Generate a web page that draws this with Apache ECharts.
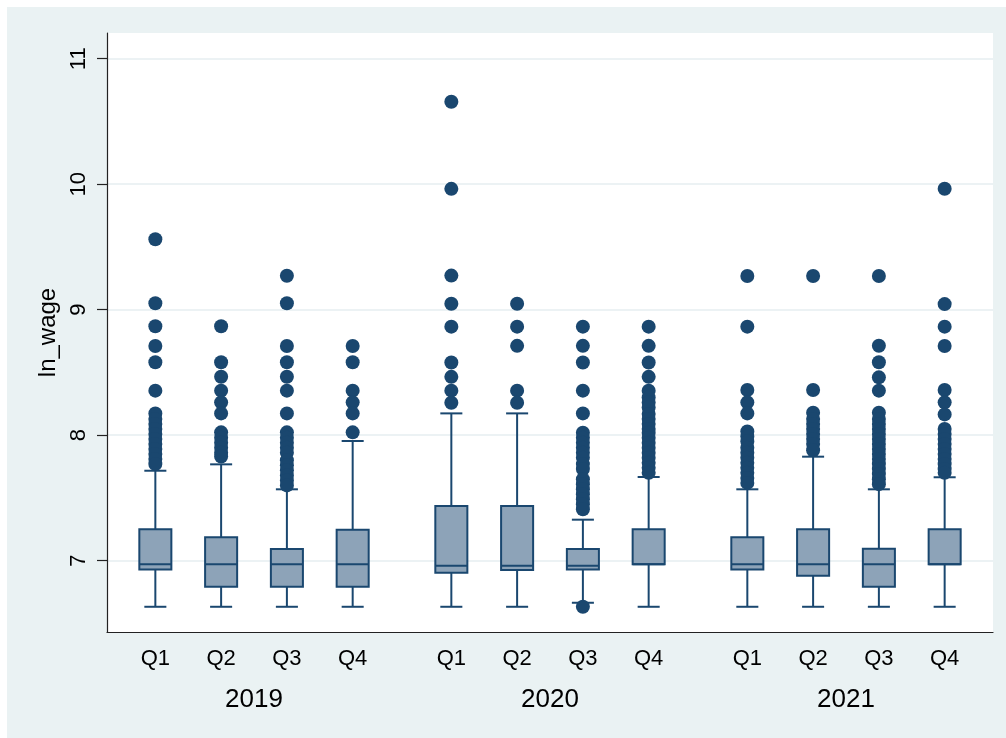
<!DOCTYPE html>
<html>
<head>
<meta charset="utf-8">
<script src="https://cdn.jsdelivr.net/npm/echarts@6/dist/echarts.min.js"></script>
<style>
  html, body { margin: 0; padding: 0; background: #fff; }
  #chart {
    width: 1006px; height: 738px;
    background: linear-gradient(#EAF2F3, #EAF2F3) no-repeat 7px 7px / 999px 731px, #fff;
  }
</style>
</head>
<body>
<div id="chart"></div>
<script>
// Quarterly ln_wage distribution, grouped by year
const years = ['2019', '2020', '2021'];
const quarters = ['Q1', 'Q2', 'Q3', 'Q4'];

// Box statistics, one entry per year-quarter (2019Q1 ... 2021Q4)
const lowerWhisker = [6.633, 6.633, 6.633, 6.633, 6.633, 6.633, 6.665, 6.633, 6.633, 6.633, 6.633, 6.633];
const lowerQuartile = [6.931, 6.793, 6.793, 6.793, 6.904, 6.926, 6.931, 6.971, 6.931, 6.880, 6.793, 6.971];
const medians = [6.971, 6.971, 6.971, 6.971, 6.960, 6.960, 6.960, 6.971, 6.971, 6.971, 6.971, 6.971];
const upperQuartile = [7.250, 7.186, 7.093, 7.247, 7.436, 7.436, 7.093, 7.250, 7.186, 7.250, 7.096, 7.250];
const upperWhisker = [7.717, 7.768, 7.569, 7.954, 8.174, 8.174, 7.327, 7.667, 7.569, 7.829, 7.569, 7.665];

// Outside values for each year-quarter
const outliers = [
  [9.561, 9.051, 8.868, 8.711, 8.581, 8.355, 8.174, 8.13, 8.09, 8.05, 8.01, 7.97, 7.93, 7.89, 7.85, 7.81, 7.77],
  [8.868, 8.581, 8.466, 8.355, 8.262, 8.174, 8.023, 7.98, 7.94, 7.90, 7.86, 7.83],
  [9.271, 9.051, 8.711, 8.581, 8.466, 8.355, 8.174, 8.023, 7.98, 7.94, 7.90, 7.86, 7.80, 7.76, 7.72, 7.68, 7.64, 7.60],
  [8.711, 8.581, 8.355, 8.262, 8.174, 8.023],
  [10.657, 9.963, 9.272, 9.047, 8.865, 8.580, 8.465, 8.355, 8.259],
  [9.047, 8.865, 8.712, 8.355, 8.259],
  [8.865, 8.712, 8.580, 8.355, 8.174, 8.02, 7.98, 7.94, 7.90, 7.86, 7.82, 7.77, 7.73, 7.65, 7.61, 7.57, 7.53, 7.49, 7.45, 7.41, 6.633],
  [8.865, 8.712, 8.580, 8.465, 8.355, 8.30, 8.26, 8.22, 8.17, 8.13, 8.09, 8.05, 8.02, 7.98, 7.94, 7.90, 7.86, 7.82, 7.78, 7.74, 7.70],
  [9.269, 8.865, 8.360, 8.262, 8.174, 8.03, 7.99, 7.95, 7.90, 7.86, 7.82, 7.78, 7.74, 7.70, 7.66, 7.62],
  [9.269, 8.360, 8.18, 8.13, 8.09, 8.05, 8.01, 7.97, 7.93, 7.88],
  [9.269, 8.713, 8.581, 8.461, 8.355, 8.18, 8.13, 8.09, 8.05, 8.01, 7.97, 7.93, 7.89, 7.85, 7.81, 7.77, 7.73, 7.69, 7.65, 7.61],
  [9.964, 9.045, 8.865, 8.711, 8.360, 8.262, 8.166, 8.05, 8.01, 7.97, 7.93, 7.89, 7.85, 7.81, 7.77, 7.73, 7.70]
];

const yTicks = [7, 8, 9, 10, 11];

// Layout of the category slots: four quarters per year, half a slot between years
const GROUP_STEP = 4.5;
const BOX_W = 0.487;
const CAP_W = 0.335;
const NAVY = '#1A476F';
const FILL = '#8DA3B8';
const FONT = '"Liberation Sans", Arial, sans-serif';

const slotPos = [];
const slotLabel = {};
years.forEach((yr, g) => {
  quarters.forEach((q, i) => {
    const p = g * GROUP_STEP + i;
    slotPos.push(p);
    slotLabel[Math.round(p * 10)] = q;
  });
});
const yearPos = years.map((yr, g) => g * GROUP_STEP + (quarters.length - 1) / 2);
const yearLabel = {};
years.forEach((yr, g) => { yearLabel[Math.round(yearPos[g] * 10)] = yr; });

const xMin = -0.735;
const xMax = slotPos[slotPos.length - 1] + 0.735;

const boxData = slotPos.map((p, k) => [p, lowerWhisker[k], lowerQuartile[k], medians[k], upperQuartile[k], upperWhisker[k]]);
const outlierData = [];
outliers.forEach((list, k) => list.forEach(v => outlierData.push([slotPos[k], v])));

const chart = echarts.init(document.getElementById('chart'), null, { renderer: 'canvas' });

chart.setOption({
  animation: false,
  backgroundColor: 'transparent',
  grid: {
    show: true, backgroundColor: '#fff', borderWidth: 0,
    left: 107, top: 33, right: 13, bottom: 106
  },
  xAxis: [
    {
      type: 'value', min: xMin, max: xMax, position: 'bottom',
      axisLine: { show: true, onZero: false, lineStyle: { color: '#222', width: 1.2 } },
      axisTick: { show: false },
      splitLine: { show: false },
      axisLabel: {
        customValues: slotPos, margin: 16,
        fontFamily: FONT, fontSize: 22, color: '#000',
        formatter: v => slotLabel[Math.round(v * 10)] || ''
      }
    },
    {
      type: 'value', min: xMin, max: xMax, position: 'bottom', offset: 40,
      axisLine: { show: false },
      axisTick: { show: false },
      splitLine: { show: false },
      axisLabel: {
        customValues: yearPos, margin: 15,
        fontFamily: FONT, fontSize: 26, color: '#000',
        formatter: v => yearLabel[Math.round(v * 10)] || ''
      }
    }
  ],
  yAxis: {
    type: 'value', min: 6.432, max: 11.205, position: 'left',
    name: 'ln_wage', nameLocation: 'middle', nameRotate: 90, nameGap: 46,
    nameTextStyle: { fontFamily: FONT, fontSize: 24, color: '#000' },
    axisLine: { show: true, onZero: false, lineStyle: { color: '#222', width: 1.2 } },
    axisTick: { show: true, customValues: yTicks, length: 10, lineStyle: { color: '#222', width: 1.2 } },
    axisLabel: {
      customValues: yTicks, rotate: 90, margin: 17,
      fontFamily: FONT, fontSize: 22, color: '#000'
    },
    splitLine: { show: true, lineStyle: { color: '#E6EEF1', width: 1.5 } }
  },
  series: [
    {
      type: 'custom',
      xAxisIndex: 0,
      data: boxData,
      encode: { x: 0, y: [1, 2, 3, 4, 5] },
      z: 2,
      renderItem: function (params, api) {
        const x = api.value(0);
        const pLow = api.coord([x, api.value(1)]);
        const pQ1 = api.coord([x, api.value(2)]);
        const pMed = api.coord([x, api.value(3)]);
        const pQ3 = api.coord([x, api.value(4)]);
        const pHigh = api.coord([x, api.value(5)]);
        const bw = api.size([BOX_W, 0])[0];
        const cw = api.size([CAP_W, 0])[0];
        const cx = pLow[0];
        const st = { stroke: NAVY, lineWidth: 2 };
        return {
          type: 'group',
          children: [
            { type: 'line', shape: { x1: cx, y1: pLow[1], x2: cx, y2: pQ1[1] }, style: st },
            { type: 'line', shape: { x1: cx, y1: pQ3[1], x2: cx, y2: pHigh[1] }, style: st },
            { type: 'line', shape: { x1: cx - cw / 2, y1: pLow[1], x2: cx + cw / 2, y2: pLow[1] }, style: st },
            { type: 'line', shape: { x1: cx - cw / 2, y1: pHigh[1], x2: cx + cw / 2, y2: pHigh[1] }, style: st },
            { type: 'rect', shape: { x: cx - bw / 2, y: pQ3[1], width: bw, height: pQ1[1] - pQ3[1] },
              style: { fill: FILL, stroke: NAVY, lineWidth: 2 } },
            { type: 'line', shape: { x1: cx - bw / 2, y1: pMed[1], x2: cx + bw / 2, y2: pMed[1] }, style: st }
          ]
        };
      }
    },
    {
      type: 'scatter',
      xAxisIndex: 0,
      data: outlierData,
      symbol: 'circle',
      symbolSize: 14,
      itemStyle: { color: NAVY, borderWidth: 0, opacity: 1 },
      z: 3
    }
  ]
});
</script>
</body>
</html>
